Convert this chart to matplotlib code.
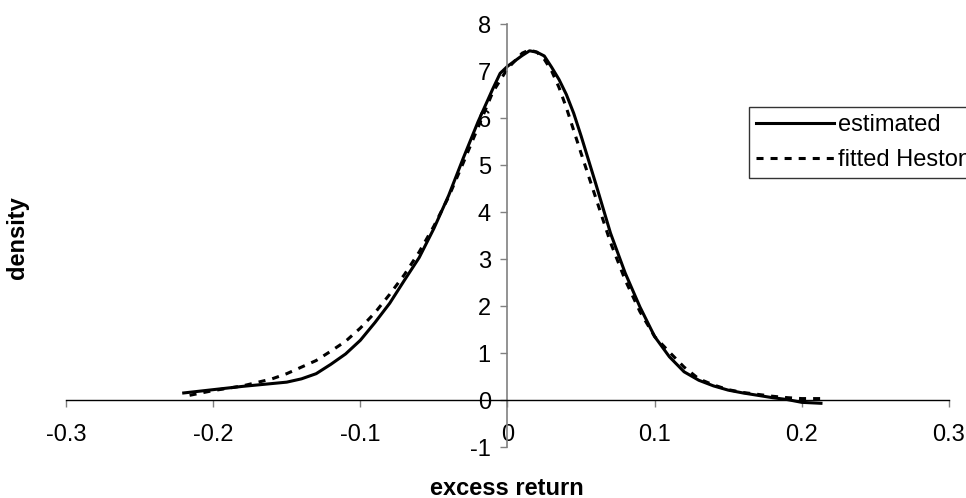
import matplotlib
matplotlib.use("Agg")
import matplotlib.pyplot as plt

# kernel estimate of the excess-return density
est_x = [-0.22, -0.20, -0.18, -0.16, -0.15, -0.14, -0.13, -0.12, -0.11, -0.10,
         -0.09, -0.08, -0.07, -0.06, -0.05, -0.04, -0.03, -0.02, -0.01, -0.005,
         0.0, 0.01, 0.015, 0.02, 0.025, 0.03, 0.035, 0.04, 0.045, 0.05,
         0.06, 0.07, 0.08, 0.09, 0.10, 0.11, 0.12, 0.13, 0.14, 0.15,
         0.16, 0.17, 0.18, 0.19, 0.20, 0.213]
est_y = [0.15, 0.22, 0.29, 0.35, 0.38, 0.45, 0.56, 0.76, 0.98, 1.27,
         1.65, 2.06, 2.55, 3.03, 3.65, 4.35, 5.15, 5.92, 6.62, 6.95,
         7.10, 7.33, 7.43, 7.40, 7.32, 7.08, 6.82, 6.50, 6.10, 5.62,
         4.60, 3.55, 2.70, 1.98, 1.35, 0.92, 0.60, 0.42, 0.30, 0.21,
         0.15, 0.10, 0.05, 0.01, -0.05, -0.07]

# density implied by the fitted Heston model
fit_x = [-0.216, -0.20, -0.18, -0.16, -0.15, -0.14, -0.13, -0.12, -0.11, -0.10,
         -0.09, -0.08, -0.07, -0.06, -0.05, -0.04, -0.03, -0.02, -0.01, 0.0,
         0.01, 0.015, 0.02, 0.025, 0.03, 0.035, 0.04, 0.05, 0.06, 0.07,
         0.08, 0.09, 0.10, 0.11, 0.12, 0.13, 0.14, 0.15, 0.16, 0.17,
         0.18, 0.19, 0.20, 0.216]
fit_y = [0.10, 0.20, 0.30, 0.45, 0.56, 0.70, 0.84, 1.04, 1.25, 1.53,
         1.86, 2.25, 2.67, 3.15, 3.70, 4.32, 5.05, 5.80, 6.55, 7.05,
         7.38, 7.45, 7.40, 7.25, 7.00, 6.65, 6.22, 5.25, 4.30, 3.35,
         2.55, 1.88, 1.35, 1.02, 0.70, 0.45, 0.32, 0.22, 0.16, 0.12,
         0.08, 0.05, 0.03, 0.03]

x_ticks = [-0.3, -0.2, -0.1, 0.0, 0.1, 0.2, 0.3]
x_tick_labels = ["-0.3", "-0.2", "-0.1", "0", "0.1", "0.2", "0.3"]
y_ticks = [-1, 0, 1, 2, 3, 4, 5, 6, 7, 8]

plt.rcParams['font.family'] = ['Liberation Sans', 'DejaVu Sans']
plt.rcParams['axes.unicode_minus'] = False
fs = 17

fig = plt.figure(figsize=(9.66, 4.98), dpi=100)
ax = fig.add_axes([0.0683, 0.1024, 0.9141, 0.8494])

ax.plot(est_x, est_y, color='black', lw=2.2, label='estimated')
ax.plot(fit_x, fit_y, color='black', lw=2.2, ls=(0, (2.3, 2.3)),
        label='fitted Heston')

ax.set_xlim(-0.3, 0.3)
ax.set_ylim(-1, 8)

# axes cross at the origin
ax.spines['left'].set_position(('data', 0))
ax.spines['bottom'].set_position(('data', 0))
ax.spines['right'].set_visible(False)
ax.spines['top'].set_visible(False)
ax.spines['left'].set_color('#808080')
ax.spines['bottom'].set_color('black')
ax.spines['left'].set_linewidth(1.2)
ax.spines['bottom'].set_linewidth(1.0)

ax.set_xticks(x_ticks)
ax.set_xticklabels(x_tick_labels)
ax.set_yticks(y_ticks)
ax.tick_params(axis='x', direction='out', length=5, width=1, color='#808080',
               pad=12, labelsize=fs)
ax.tick_params(axis='y', direction='out', length=5, width=1, color='#808080',
               pad=7, labelsize=fs)

fig.text(507 / 966, 1 - 488 / 498, 'excess return', ha='center', va='center',
         fontsize=fs, fontweight='bold')
fig.text(18 / 966, 1 - 238 / 498, 'density', ha='center', va='center',
         rotation=90, fontsize=fs, fontweight='bold')

leg = fig.legend(loc='upper left', bbox_to_anchor=(749 / 966, 1 - 107 / 498),
                 borderaxespad=0, fontsize=fs, frameon=True, fancybox=False,
                 handlelength=3.3, handletextpad=0.15, labelspacing=0.55,
                 borderpad=0.3)
leg.get_frame().set_edgecolor('black')
leg.get_frame().set_linewidth(1.0)

fig.savefig('out.png', dpi=100)
